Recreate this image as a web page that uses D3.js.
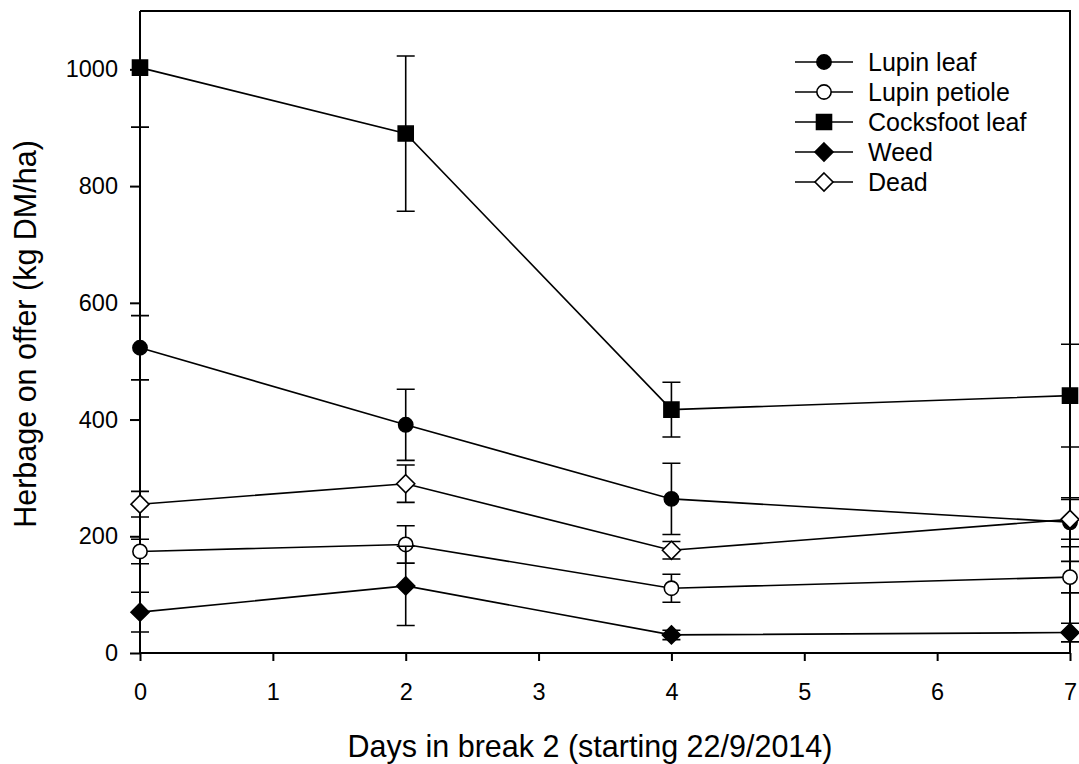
<!DOCTYPE html>
<html>
<head>
<meta charset="utf-8">
<script src="https://cdn.jsdelivr.net/npm/d3@7"></script>
<style>
  body { margin: 0; background: #fff; }
  text { font-family: "Liberation Sans", Arial, sans-serif; fill: #000; }
</style>
</head>
<body>
<script>
var w = 1079,
    h = 764;

// data
var days = [0, 2, 4, 7];
var seriesNames = ['Lupin leaf', 'Lupin petiole', 'Cocksfoot leaf', 'Weed', 'Dead'];
var lupinLeaf = [523, 391, 264, 224];
var lupinLeafSE = [55, 61, 61, 42];
var lupinPetiole = [174, 186, 111, 130];
var lupinPetioleSE = [21, 32, 24, 27];
var cocksfootLeaf = [1003, 890, 417, 441];
var cocksfootLeafSE = [102, 133, 47, 88];
var weed = [70, 115, 31, 35];
var weedSE = [34, 68, 8, 16];
var dead = [255, 290, 176, 229];
var deadSE = [22, 32, 15, 34];
var xTicks = [0, 1, 2, 3, 4, 5, 6, 7];
var yTicks = [0, 200, 400, 600, 800, 1000];

var series = [
  {name: seriesNames[0], values: lupinLeaf, se: lupinLeafSE, shape: 'circle', fill: '#000'},
  {name: seriesNames[1], values: lupinPetiole, se: lupinPetioleSE, shape: 'circle', fill: '#fff'},
  {name: seriesNames[2], values: cocksfootLeaf, se: cocksfootLeafSE, shape: 'square', fill: '#000'},
  {name: seriesNames[3], values: weed, se: weedSE, shape: 'diamond', fill: '#000'},
  {name: seriesNames[4], values: dead, se: deadSE, shape: 'diamond', fill: '#fff'}
];

var m = {left: 140, right: 1070, top: 11, bottom: 653};

var svg = d3.select('body')
            .append('svg')
            .attr('width', w)
            .attr('height', h);

var x = d3.scaleLinear().domain([0, 7]).range([m.left, m.right]);
var y = d3.scaleLinear().domain([0, 1100]).range([m.bottom, m.top]);

svg.append('clipPath')
   .attr('id', 'plotclip')
   .append('rect')
   .attr('x', m.left - 20)
   .attr('y', m.top)
   .attr('width', m.right - m.left + 40)
   .attr('height', m.bottom - m.top);

// frame (top and right)
svg.append('path')
   .attr('d', 'M' + m.left + ',' + m.top + 'H' + m.right + 'V' + m.bottom)
   .attr('fill', 'none')
   .attr('stroke', '#000')
   .attr('stroke-width', 2);

// axes
var xAxis = svg.append('g')
   .attr('transform', 'translate(0,' + m.bottom + ')')
   .call(d3.axisBottom(x).tickValues(xTicks).tickFormat(d3.format('d'))
           .tickSize(8).tickPadding(22).tickSizeOuter(0));
var yAxis = svg.append('g')
   .attr('transform', 'translate(' + m.left + ',0)')
   .call(d3.axisLeft(y).tickValues(yTicks).tickFormat(d3.format('d'))
           .tickSize(10).tickPadding(12).tickSizeOuter(0));

[xAxis, yAxis].forEach(function(a) {
  a.select('.domain').attr('stroke-width', 2);
  a.selectAll('.tick line').attr('stroke-width', 2);
  a.selectAll('.tick text').style('font-size', '23.5px').attr('fill', '#000');
});
xAxis.select('.domain').attr('d', 'M' + m.left + ',0H' + m.right);
yAxis.select('.domain').attr('d', 'M0,' + m.top + 'V' + m.bottom);

// axis titles
svg.append('text')
   .attr('x', 590)
   .attr('y', 757)
   .attr('text-anchor', 'middle')
   .style('font-size', '30.5px')
   .text('Days in break 2 (starting 22/9/2014)');

svg.append('text')
   .attr('transform', 'translate(36,' + 334 + ') rotate(-90)')
   .attr('text-anchor', 'middle')
   .style('font-size', '30.5px')
   .text('Herbage on offer (kg DM/ha)');

var symbol = function(shape) {
  if (shape === 'circle') return d3.symbol().type(d3.symbolCircle).size(160)();
  if (shape === 'square') return d3.symbol().type(d3.symbolSquare).size(225)();
  return 'M0,-9L9,0L0,9L-9,0Z';
};

var plot = svg.append('g').attr('clip-path', 'url(#plotclip)');

var line = d3.line()
             .x(function(d, i) { return x(days[i]); })
             .y(function(d) { return y(d); });

series.forEach(function(s) {
  var g = plot.append('g');

  // error bars
  s.values.forEach(function(v, i) {
    var cx = x(days[i]),
        y1 = y(v + s.se[i]),
        y0 = y(v - s.se[i]);
    g.append('path')
     .attr('d', 'M' + cx + ',' + y1 + 'V' + y0 +
                'M' + (cx - 9) + ',' + y1 + 'H' + (cx + 9) +
                'M' + (cx - 9) + ',' + y0 + 'H' + (cx + 9))
     .attr('fill', 'none')
     .attr('stroke', '#000')
     .attr('stroke-width', 1.6);
  });

  g.append('path')
   .datum(s.values)
   .attr('d', line)
   .attr('fill', 'none')
   .attr('stroke', '#000')
   .attr('stroke-width', 1.6);

  g.selectAll('.pt')
   .data(s.values)
   .enter()
   .append('path')
   .attr('transform', function(d, i) { return 'translate(' + x(days[i]) + ',' + y(d) + ')'; })
   .attr('d', symbol(s.shape))
   .attr('fill', s.fill)
   .attr('stroke', '#000')
   .attr('stroke-width', 1.6);
});

// legend
var legend = svg.append('g');
series.forEach(function(s, i) {
  var ly = 62 + i * 30;
  legend.append('line')
        .attr('x1', 795).attr('x2', 853)
        .attr('y1', ly).attr('y2', ly)
        .attr('stroke', '#000')
        .attr('stroke-width', 1.6);
  legend.append('path')
        .attr('transform', 'translate(824,' + ly + ')')
        .attr('d', symbol(s.shape))
        .attr('fill', s.fill)
        .attr('stroke', '#000')
        .attr('stroke-width', 1.6);
  legend.append('text')
        .attr('x', 868)
        .attr('y', ly)
        .attr('dy', '0.35em')
        .style('font-size', '25px')
        .text(s.name);
});
</script>
</body>
</html>
